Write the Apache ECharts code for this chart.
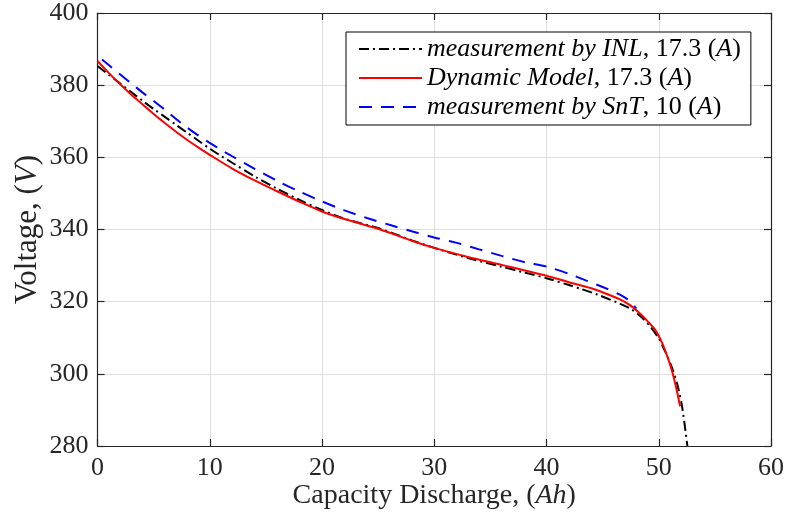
<!DOCTYPE html>
<html><head><meta charset="utf-8">
<script src="https://cdn.jsdelivr.net/npm/echarts@6/dist/echarts.min.js"></script>
<style>html,body{margin:0;padding:0;background:#fff}#c{width:787px;height:518px}</style>
</head><body><div id="c"></div>
<script>
// Tick values
const xTicks = [0, 10, 20, 30, 40, 50, 60];
const yTicks = [280, 300, 320, 340, 360, 380, 400];

// measurement by INL, 17.3 (A)
const inlCap  = [0, 1, 2, 3, 4, 5, 6, 7, 8, 9, 10, 11, 12, 14, 16, 18, 20, 22, 25, 28, 30, 33, 36, 38, 40, 42, 43, 44.5, 46.5, 47.6, 48.5, 49.3, 50, 50.6, 51.2, 51.7, 52.1, 52.55];
const inlVolt = [385.3, 382.9, 380.5, 378.1, 375.7, 373.4, 371.2, 369.0, 366.8, 364.6, 362.4, 360.4, 358.5, 354.7, 351.3, 348.2, 345.4, 343.0, 340.4, 337.0, 334.9, 332.1, 329.7, 328.1, 326.5, 324.6, 323.6, 322.0, 319.5, 317.8, 315.6, 312.9, 309.8, 306.0, 301.5, 296.5, 290.5, 280.0];

// Dynamic Model, 17.3 (A)
const modelCap  = [0, 1, 2, 3, 4, 5, 6, 7, 8, 9, 10, 12, 14, 16, 18, 20, 22, 25, 28, 30, 33, 36, 38, 40, 42, 44, 45.5, 46.5, 47.4, 48.3, 49, 49.7, 50.3, 50.8, 51.2, 51.6, 51.9];
const modelVolt = [386.7, 383.4, 380.3, 377.4, 374.7, 372.0, 369.5, 367.1, 364.8, 362.7, 360.7, 356.9, 353.6, 350.6, 347.7, 345.0, 342.9, 340.2, 336.9, 334.9, 332.4, 330.2, 328.7, 327.2, 325.4, 323.7, 322.0, 320.7, 319.1, 316.8, 314.6, 312.1, 308.6, 304.5, 300.6, 295.5, 291.0];

// measurement by SnT, 10 (A)
const sntCap  = [0.4, 1, 2, 3, 4, 5, 6, 7, 8, 9, 10, 11, 12, 14, 16, 18, 20, 22, 24, 26, 28, 30, 32, 34, 36, 38, 40, 42, 43.5, 45.3, 46.5, 47.1, 47.6, 48.0];
const sntVolt = [387.1, 385.6, 383.0, 380.5, 378.0, 375.6, 373.2, 370.6, 368.2, 366.0, 364.0, 362.1, 360.3, 356.8, 353.5, 350.5, 347.8, 345.3, 343.2, 341.3, 339.5, 337.8, 336.3, 334.5, 332.7, 331.0, 329.7, 327.7, 325.9, 323.7, 322.0, 320.9, 319.6, 318.1];

const pairs = (xs, ys) => xs.map((x, i) => [x, ys[i]]);

const SERIF = '"Liberation Serif", "DejaVu Serif", serif';
const TXT = '#262626';
const GRIDC = '#dedede';

const legendRich = {
  i: { fontFamily: SERIF, fontStyle: 'italic', fontSize: 26, color: '#000' },
  n: { fontFamily: SERIF, fontSize: 26, color: '#000' }
};
const legendText = {
  inl: '{i|measurement by INL}{n|, 17.3 (}{i|A}{n|)}',
  model: '{i|Dynamic Model}{n|, 17.3 (}{i|A}{n|)}',
  snt: '{i|measurement by SnT}{n|, 10 (}{i|A}{n|)}'
};

const baseAxis = {
  axisLine: { show: true, onZero: false, lineStyle: { color: TXT, width: 1.2 } },
  axisTick: { show: true, inside: true, length: 7, lineStyle: { color: TXT, width: 1.2 } },
};

const chart = echarts.init(document.getElementById('c'), null, { renderer: 'canvas' });
chart.setOption({
  backgroundColor: '#fff',
  animation: false,
  grid: { left: 97.5, right: 15, top: 12, bottom: 72, containLabel: false },
  legend: {
    orient: 'vertical', left: 346, top: 32, align: 'left',
    backgroundColor: '#fff', borderColor: '#000', borderWidth: 1,
    padding: [4, 10, 5, 12], itemGap: 3, itemWidth: 63, itemHeight: 1,
    icon: 'inherit',
    itemStyle: { opacity: 0 },
    data: ['inl', 'model', 'snt'],
    formatter: name => legendText[name],
    textStyle: { rich: legendRich, fontFamily: SERIF, fontSize: 26 }
  },
  xAxis: [
    Object.assign({}, baseAxis, {
      type: 'value', min: xTicks[0], max: xTicks[xTicks.length - 1], interval: xTicks[1] - xTicks[0],
      position: 'bottom',
      axisLabel: { color: TXT, fontFamily: SERIF, fontSize: 26, margin: 9 },
      splitLine: { show: true, lineStyle: { color: GRIDC, width: 1 } },
      name: '{a|Capacity Discharge, (}{b|Ah}{a|)}', nameLocation: 'middle', nameGap: 36,
      nameMoveOverlap: false,
      nameTextStyle: { rich: {
        a: { fontFamily: SERIF, fontSize: 28, color: TXT },
        b: { fontFamily: SERIF, fontSize: 28, fontStyle: 'italic', color: TXT } } }
    }),
    Object.assign({}, baseAxis, {
      type: 'value', min: xTicks[0], max: xTicks[xTicks.length - 1], interval: xTicks[1] - xTicks[0],
      position: 'top', axisLabel: { show: false }, splitLine: { show: false }
    })
  ],
  yAxis: [
    Object.assign({}, baseAxis, {
      type: 'value', min: yTicks[0], max: yTicks[yTicks.length - 1], interval: yTicks[1] - yTicks[0],
      position: 'left',
      axisLabel: { color: TXT, fontFamily: SERIF, fontSize: 26, margin: 9 },
      splitLine: { show: true, lineStyle: { color: GRIDC, width: 1 } },
      name: '{a|Voltage, (}{b|V}{a|)}', nameLocation: 'middle', nameGap: 54,
      nameMoveOverlap: false,
      nameTextStyle: { rich: {
        a: { fontFamily: SERIF, fontSize: 31, color: TXT },
        b: { fontFamily: SERIF, fontSize: 31, fontStyle: 'italic', color: TXT } } }
    }),
    Object.assign({}, baseAxis, {
      type: 'value', min: yTicks[0], max: yTicks[yTicks.length - 1], interval: yTicks[1] - yTicks[0],
      position: 'right', axisLabel: { show: false }, splitLine: { show: false }
    })
  ],
  series: [
    { name: 'inl', type: 'line', data: pairs(inlCap, inlVolt), showSymbol: false, symbol: 'none', smooth: 0.3, z: 3,
      lineStyle: { color: '#000', width: 2, type: [10, 4, 2, 4] }, itemStyle: { color: '#000' } },
    { name: 'model', type: 'line', data: pairs(modelCap, modelVolt), showSymbol: false, symbol: 'none', smooth: 0.3, z: 4,
      lineStyle: { color: '#ff0000', width: 2, type: 'solid' }, itemStyle: { color: '#ff0000' } },
    { name: 'snt', type: 'line', data: pairs(sntCap, sntVolt), showSymbol: false, symbol: 'none', smooth: 0.3, z: 2,
      lineStyle: { color: '#0000ff', width: 2, type: [13, 9] }, itemStyle: { color: '#0000ff' } }
  ]
});
</script>
</body></html>
